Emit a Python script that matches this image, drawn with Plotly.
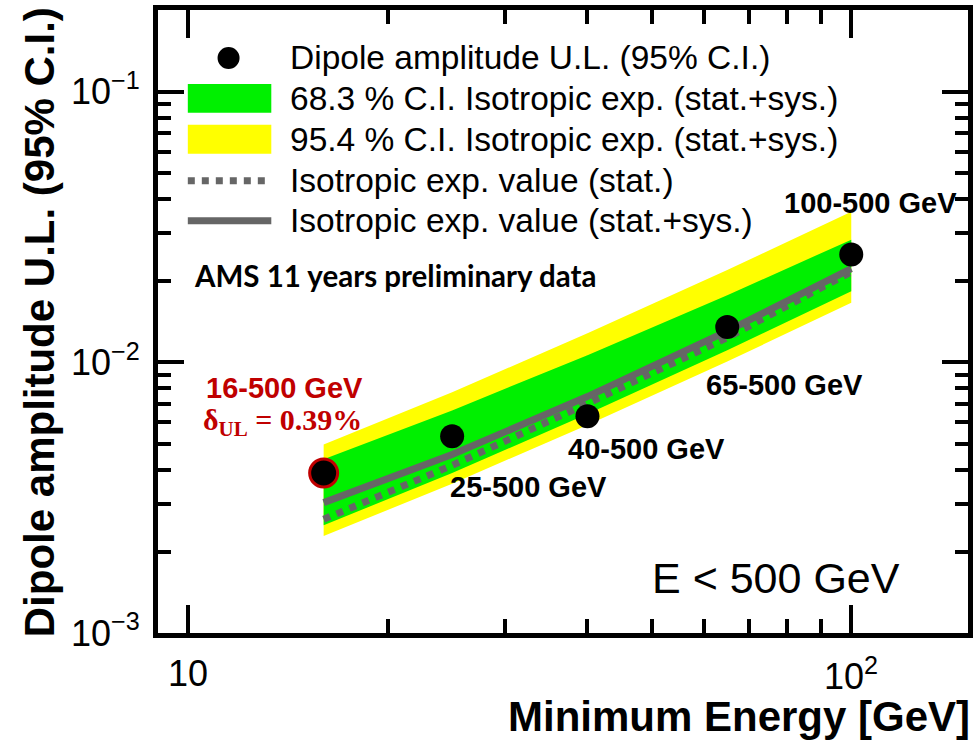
import numpy as np
import plotly.graph_objects as go

# Minimum-energy thresholds (upper edge of every bin is 500 GeV)
energy_min = [16, 25, 40, 65, 100]
range_labels = ["16-500 GeV", "25-500 GeV", "40-500 GeV", "65-500 GeV", "100-500 GeV"]

# Dipole amplitude upper limits (95% C.I.)
dipole_ul = [0.0039, 0.00533, 0.00632, 0.0135, 0.0250]

# Isotropic expectation values
iso_stat = [0.00263, 0.00416, 0.00704, 0.01233, 0.02156]
iso_stat_sys = [0.00303, 0.00456, 0.00747, 0.01302, 0.02217]

# Isotropic expectation bands (stat.+sys.)
band68_lo = [0.00250, 0.00390, 0.00644, 0.01107, 0.01828]
band68_hi = [0.00438, 0.00664, 0.01062, 0.01768, 0.02837]
band95_lo = [0.00228, 0.00356, 0.00587, 0.01006, 0.01657]
band95_hi = [0.00497, 0.00775, 0.01279, 0.02190, 0.03597]

x_ticks = [10, 100]
x_tick_text = ["10", "10<sup>2</sup>"]
x_minor = [20, 30, 40, 50, 60, 70, 80, 90]
y_ticks = [1e-3, 1e-2, 1e-1]
y_tick_text = ["10<sup>\u22123</sup>", "10<sup>\u22122</sup>", "10<sup>\u22121</sup>"]
y_minor = [k * 1e-3 for k in range(2, 10)] + [k * 1e-2 for k in range(2, 10)]

X_RANGE = [np.log10(9), np.log10(150)]
Y_RANGE = [-3, np.log10(0.2)]

W, H = 978, 745
ML, MR, MT, MB = 158, 5, 9, 112
PW, PH = W - ML - MR, H - MT - MB

GREEN = "rgb(0,240,0)"
YELLOW = "rgb(255,255,0)"
GREY = "rgb(102,102,102)"
RED = "rgb(192,0,0)"
SANS = "Liberation Sans"


def px(x):
    return (x - ML) / PW


def py(y):
    return (H - MB - y) / PH


fig = go.Figure()


def band(lo, hi, color):
    fig.add_trace(go.Scatter(
        x=energy_min + energy_min[::-1],
        y=lo + hi[::-1],
        fill="toself", fillcolor=color,
        line=dict(width=0), mode="lines",
        hoverinfo="skip", showlegend=False,
    ))


band(band95_lo, band95_hi, YELLOW)
band(band68_lo, band68_hi, GREEN)

fig.add_trace(go.Scatter(
    x=energy_min, y=iso_stat, mode="lines",
    line=dict(color=GREY, width=7, dash="dot"), showlegend=False,
))
fig.add_trace(go.Scatter(
    x=energy_min, y=iso_stat_sys, mode="lines",
    line=dict(color=GREY, width=7), showlegend=False,
))

# the 16 GeV threshold is highlighted with a red ring
fig.add_trace(go.Scatter(
    x=energy_min, y=dipole_ul, mode="markers",
    marker=dict(
        color="black", opacity=1,
        size=[28, 24, 24, 24, 24],
        line=dict(color=[RED, "black", "black", "black", "black"],
                  width=[3, 0, 0, 0, 0]),
    ),
    showlegend=False,
))

# ---- legend drawn by hand (wide swatches) ----
sw_x0, sw_x1 = px(188), px(272)
shapes = [
    dict(type="circle", xref="paper", yref="paper", xsizemode="pixel", ysizemode="pixel",
         xanchor=px(229), yanchor=py(57), x0=-11, x1=11, y0=-11, y1=11,
         fillcolor="black", line=dict(width=0)),
    dict(type="rect", xref="paper", yref="paper", x0=sw_x0, x1=sw_x1,
         y0=py(112), y1=py(83), fillcolor=GREEN, line=dict(width=0)),
    dict(type="rect", xref="paper", yref="paper", x0=sw_x0, x1=sw_x1,
         y0=py(153), y1=py(124), fillcolor=YELLOW, line=dict(width=0)),
    dict(type="line", xref="paper", yref="paper", x0=sw_x0, x1=sw_x1,
         y0=py(180), y1=py(180), line=dict(color=GREY, width=7, dash="dot")),
    dict(type="line", xref="paper", yref="paper", x0=sw_x0, x1=sw_x1,
         y0=py(220), y1=py(220), line=dict(color=GREY, width=7)),
]

legend_rows = [
    ("Dipole amplitude U.L. (95% C.I.)", 57),
    ("68.3 % C.I. Isotropic exp. (stat.+sys.)", 98),
    ("95.4 % C.I. Isotropic exp. (stat.+sys.)", 139),
    ("Isotropic exp. value (stat.)", 180),
    ("Isotropic exp. value (stat.+sys.)", 220),
]

annotations = []
for text, ypix in legend_rows:
    annotations.append(dict(
        text=text, xref="paper", yref="paper", x=px(289), y=py(ypix),
        xanchor="left", yanchor="middle", showarrow=False,
        font=dict(family=SANS, size=33.5, color="black"),
    ))

# energy-axis tick labels, set a little below the frame
for val, txt in zip(x_ticks, x_tick_text):
    annotations.append(dict(
        text=txt, xref="x", yref="paper", x=np.log10(val), y=py(674),
        xanchor="center", yanchor="middle", showarrow=False,
        font=dict(family=SANS, size=36, color="black"),
    ))

# energy-range labels next to the points
label_pos = {
    "16-500 GeV": (285, 388),
    "25-500 GeV": (531, 487),
    "40-500 GeV": (650, 449),
    "65-500 GeV": (788, 385),
    "100-500 GeV": (875, 202),
}
for lab in range_labels:
    xp, yp = label_pos[lab]
    annotations.append(dict(
        text=lab, xref="paper", yref="paper", x=px(xp), y=py(yp),
        xanchor="center", yanchor="middle", showarrow=False,
        font=dict(family=SANS, size=29, weight="bold",
                  color=RED if lab == range_labels[0] else "black"),
    ))

annotations.append(dict(
    text="\u03b4<sub>UL</sub> = %.2f%%" % (dipole_ul[0] * 100),
    xref="paper", yref="paper", x=px(283), y=py(422),
    xanchor="center", yanchor="middle", showarrow=False,
    font=dict(family="Liberation Serif", size=30, weight="bold", color=RED),
))
annotations.append(dict(
    text="AMS 11 years preliminary data", xref="paper", yref="paper",
    x=px(192), y=py(275), xanchor="left", yanchor="middle", showarrow=False,
    font=dict(family="Lato", size=29.5, weight="bold", color="black"),
))
annotations.append(dict(
    text="E < 500 GeV", xref="paper", yref="paper",
    x=px(907), y=py(578), xanchor="right", yanchor="middle", showarrow=False,
    font=dict(family=SANS, size=43, color="black"),
))

# axis titles
annotations.append(dict(
    text="Minimum Energy [GeV]", xref="paper", yref="paper",
    x=px(977), y=py(717), xanchor="right", yanchor="middle", showarrow=False,
    font=dict(family=SANS, size=42, weight="bold", color="black"),
))
annotations.append(dict(
    text="Dipole amplitude U.L. (95% C.I.)", xref="paper", yref="paper",
    x=px(39), y=py(322), xanchor="center", yanchor="middle", textangle=-90,
    showarrow=False,
    font=dict(family=SANS, size=42, weight="bold", color="black"),
))

axis_common = dict(
    type="log", showline=True, linewidth=5, linecolor="black",
    mirror="allticks", ticks="inside", tickwidth=4, tickcolor="black",
    showgrid=False, zeroline=False, tickmode="array",
    tickfont=dict(family=SANS, size=36, color="black"),
)

fig.update_layout(
    width=W, height=H,
    margin=dict(l=ML, r=MR, t=MT, b=MB),
    paper_bgcolor="white", plot_bgcolor="white",
    showlegend=False,
    xaxis=dict(
        axis_common, range=X_RANGE,
        tickvals=x_ticks, ticklen=28, showticklabels=False,
        minor=dict(ticks="inside", ticklen=14, tickwidth=4, tickcolor="black",
                   tickmode="array", tickvals=x_minor),
    ),
    yaxis=dict(
        axis_common, range=Y_RANGE,
        tickvals=y_ticks, ticktext=y_tick_text, ticklen=26,
        ticklabelstandoff=6,
        minor=dict(ticks="inside", ticklen=13, tickwidth=4, tickcolor="black",
                   tickmode="array", tickvals=y_minor),
    ),
    shapes=shapes,
    annotations=annotations,
)

fig.write_html("out.html")
